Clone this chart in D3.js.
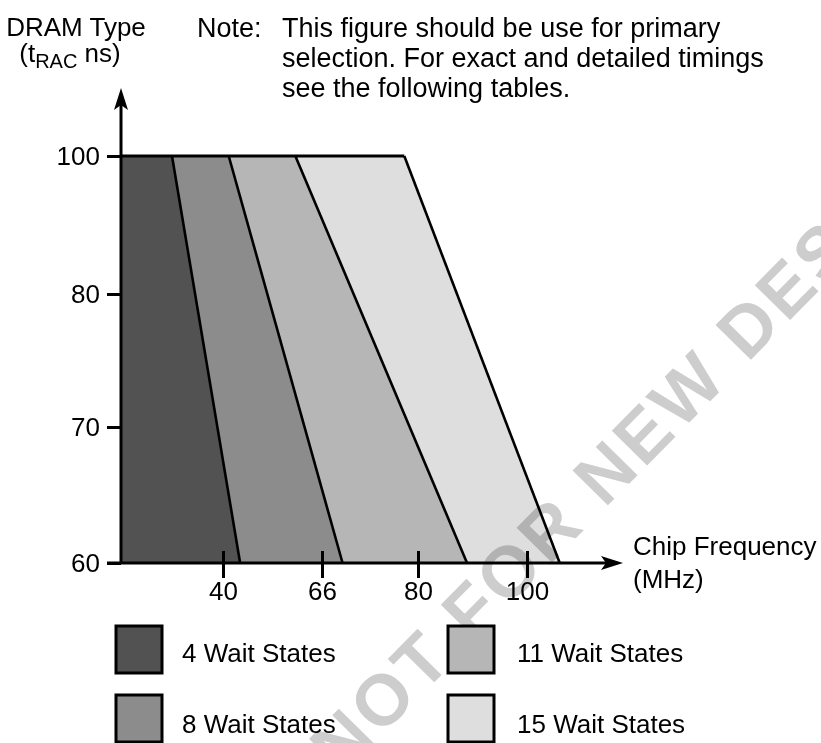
<!DOCTYPE html>
<html>
<head>
<meta charset="utf-8">
<script src="https://cdn.jsdelivr.net/npm/d3@7"></script>
<style>
  body { margin: 0; background: #fff; }
  svg { display: block; font-family: "Liberation Sans", Arial, Helvetica, sans-serif; }
</style>
</head>
<body>
<div id="chart"></div>
<script>
const width = 821
const height = 743

// values
const waitStates = ["4 Wait States", "8 Wait States", "11 Wait States", "15 Wait States"]
const boundaryTop = [30, 41.5, 59, 78]        // MHz where each zone ends at tRAC = 100 ns
const boundaryBottom = [44.5, 69, 89, 106]    // MHz where each zone ends at tRAC = 60 ns
const xTicks = [40, 66, 80, 100]
const yTicks = [100, 80, 70, 60]
const noteLines = [
    "This figure should be use for primary",
    "selection. For exact and detailed timings",
    "see the following tables."
]
const fills = ["#525252", "#8c8c8c", "#b6b6b6", "#dedede"]

const svg = d3.select("#chart").append("svg")
    .attr("width", width)
    .attr("height", height)

// the figure's axes are schematic, so the scales are piecewise
let x = d3.scaleLinear()
    .domain([20, 40, 66, 80, 100, 117.6])
    .range([121, 223, 322, 418, 527, 623])
let y = d3.scaleLinear()
    .domain([60, 70, 80, 100, 110])
    .range([563, 427, 294, 156, 88])

const fontSize = 26
const x0 = x.domain()[0]

// zones
let zoneGroup = svg.append("g").attr("id", "zones")
let zones = waitStates.map((name, i) => {
    let leftTop = i == 0 ? x0 : boundaryTop[i - 1]
    let leftBottom = i == 0 ? x0 : boundaryBottom[i - 1]
    return {
        name: name,
        pts: [[leftTop, 100], [boundaryTop[i], 100], [boundaryBottom[i], 60], [leftBottom, 60]]
    }
})
zoneGroup.selectAll("polygon").data(zones).enter().append("polygon")
    .attr("points", d => d.pts.map(p => [x(p[0]), y(p[1])].join(",")).join(" "))
    .attr("fill", (d, i) => fills[i])

// watermark, under the lines and text
svg.append("g")
    .style("mix-blend-mode", "multiply")
    .attr("transform", "translate(631,445) rotate(-45.5)")
    .append("text")
    .attr("text-anchor", "middle")
    .attr("dy", "0.36em")
    .attr("font-size", 72)
    .attr("font-weight", "bold")
    .attr("letter-spacing", 4)
    .attr("fill", "#cdcdcd")
    .text("NOT FOR NEW DESIGN")

// zone boundaries
let lineGroup = svg.append("g").attr("id", "lines")
lineGroup.selectAll("line").data(boundaryTop).enter().append("line")
    .attr("x1", d => x(d))
    .attr("y1", y(100))
    .attr("x2", (d, i) => x(boundaryBottom[i]))
    .attr("y2", y(60))
    .attr("stroke", "#000")
    .attr("stroke-width", 2.6)
lineGroup.append("line")
    .attr("x1", x(x0)).attr("y1", y(100))
    .attr("x2", x(boundaryTop[3])).attr("y2", y(100))
    .attr("stroke", "#000")
    .attr("stroke-width", 3)

// axes
let xAxisGroup = svg.append("g").attr("transform", `translate(0, ${y(60)})`)
let yAxisGroup = svg.append("g").attr("transform", `translate(${x(x0)}, 0)`)

xAxisGroup.call(d3.axisBottom(x).tickValues(xTicks).tickSize(15).tickPadding(4).tickFormat(d3.format("d")))
yAxisGroup.call(d3.axisLeft(y).tickValues(yTicks).tickSize(14).tickPadding(7).tickFormat(d3.format("d")))

;[xAxisGroup, yAxisGroup].forEach(g => {
    g.attr("font-family", null).attr("font-size", fontSize)
    g.select(".domain").remove()
    g.selectAll(".tick line").attr("stroke", "#000").attr("stroke-width", 3)
    g.selectAll(".tick text").attr("fill", "#000")
})
xAxisGroup.selectAll(".tick line").attr("y1", -12)

let xEnd = x.range()[x.range().length - 1]
let yEnd = y.range()[y.range().length - 1]

svg.append("line")
    .attr("x1", x(x0) - 14).attr("y1", y(60))
    .attr("x2", xEnd - 12).attr("y2", y(60))
    .attr("stroke", "#000").attr("stroke-width", 3)
svg.append("line")
    .attr("x1", x(x0)).attr("y1", y(60))
    .attr("x2", x(x0)).attr("y2", yEnd + 12)
    .attr("stroke", "#000").attr("stroke-width", 3)

// arrow heads
svg.append("path")
    .attr("d", `M${xEnd},${y(60)} L${xEnd - 22},${y(60) - 7} L${xEnd - 17},${y(60)} L${xEnd - 22},${y(60) + 7} Z`)
    .attr("fill", "#000")
svg.append("path")
    .attr("d", `M${x(x0)},${yEnd} L${x(x0) - 7},${yEnd + 22} L${x(x0)},${yEnd + 17} L${x(x0) + 7},${yEnd + 22} Z`)
    .attr("fill", "#000")

// axis titles
let yTitle = svg.append("g").attr("font-size", fontSize).attr("fill", "#000")
yTitle.append("text").attr("x", 76).attr("y", 36).attr("text-anchor", "middle").text("DRAM Type")
let sub = yTitle.append("text").attr("x", 70).attr("y", 62).attr("text-anchor", "middle")
sub.append("tspan").text("(t")
sub.append("tspan").attr("font-size", 20).attr("dy", 6).text("RAC")
sub.append("tspan").attr("dy", -6).text(" ns)")

let xTitle = svg.append("g").attr("font-size", fontSize).attr("fill", "#000")
xTitle.append("text").attr("x", 633).attr("y", 555).text("Chip Frequency")
xTitle.append("text").attr("x", 633).attr("y", 588).text("(MHz)")

// note
let note = svg.append("g").attr("font-size", 27).attr("fill", "#000")
note.append("text").attr("x", 197).attr("y", 37).text("Note:")
note.selectAll("text.line").data(noteLines).enter().append("text")
    .attr("class", "line")
    .attr("x", 282)
    .attr("y", (d, i) => 37 + i * 30)
    .text(d => d)

// legend: two columns, two rows
const legendCols = [116, 448]
const legendRows = [626, 695]
let legend = svg.append("g").attr("font-size", fontSize)
let items = legend.selectAll("g").data(waitStates).enter().append("g")
    .attr("transform", (d, i) => `translate(${legendCols[Math.floor(i / 2)]}, ${legendRows[i % 2]})`)
items.append("rect")
    .attr("x", 0).attr("y", 0)
    .attr("width", 46).attr("height", 47)
    .attr("fill", (d, i) => fills[i])
    .attr("stroke", "#000")
    .attr("stroke-width", 3)
items.append("text")
    .attr("x", (d, i) => i < 2 ? 66 : 69)
    .attr("y", (d, i) => i % 2 == 0 ? 36 : 38)
    .attr("fill", "#000")
    .text(d => d)
</script>
</body>
</html>
